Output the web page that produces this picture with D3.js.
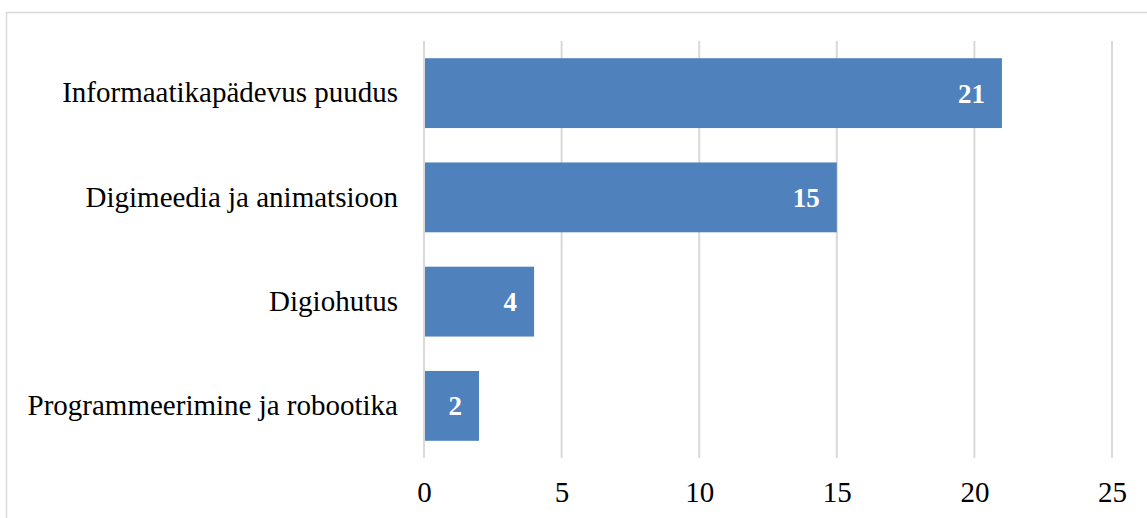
<!DOCTYPE html>
<html>
<head>
<meta charset="utf-8">
<script src="https://cdn.jsdelivr.net/npm/d3@7"></script>
<style>
  body { margin: 0; background: #fff; }
  text { font-family: "Liberation Serif", "Times New Roman", serif; }
</style>
</head>
<body>
<div id="chart"></div>
<script>
var svgWidth = 1147;
var svgHeight = 518;

// data
var categories = ["Informaatikapädevus puudus", "Digimeedia ja animatsioon", "Digiohutus", "Programmeerimine ja robootika"];
var values = [21, 15, 4, 2];
var xTicks = [0, 5, 10, 15, 20, 25];

var margin = { top: 41, right: 35, bottom: 60, left: 424 };
var width = 1112 - margin.left;
var height = 458 - margin.top;

var svg = d3.select("#chart")
  .append("svg")
  .attr("width", svgWidth)
  .attr("height", svgHeight);

// outer chart border (runs off the right/bottom edges)
svg.append("rect")
  .attr("x", 6.5)
  .attr("y", 12.5)
  .attr("width", 1200)
  .attr("height", 600)
  .attr("fill", "none")
  .attr("stroke", "#d9d9d9")
  .attr("stroke-width", 1.5);

var chartGroup = svg.append("g")
  .attr("transform", `translate(${margin.left}, ${margin.top})`);

var xScale = d3.scaleLinear()
  .domain([0, 25])
  .range([0, width]);

var yScale = d3.scaleBand()
  .domain(categories)
  .range([0, height])
  .paddingInner(0.33)
  .paddingOuter(0.165);

// gridlines
chartGroup.selectAll("line.grid")
  .data(xTicks)
  .enter()
  .append("line")
  .attr("class", "grid")
  .attr("x1", d => xScale(d))
  .attr("x2", d => xScale(d))
  .attr("y1", 0)
  .attr("y2", height)
  .attr("stroke", "#d9d9d9")
  .attr("stroke-width", 2);

// x axis labels
var bottomAxis = d3.axisBottom(xScale).tickValues(xTicks).tickSize(0).tickPadding(0);
var xAxis = chartGroup.append("g")
  .attr("transform", `translate(0, ${height})`)
  .call(bottomAxis);
xAxis.select(".domain").remove();
xAxis.attr("font-family", null).attr("font-size", null);
xAxis.selectAll("text")
  .attr("dy", null)
  .attr("y", 44)
  .style("font-size", "29px")
  .attr("fill", "#000");

// y axis labels
var leftAxis = d3.axisLeft(yScale).tickSize(0).tickPadding(26);
var yAxis = chartGroup.append("g").call(leftAxis);
yAxis.select(".domain").remove();
yAxis.attr("font-family", null).attr("font-size", null);
yAxis.selectAll("text")
  .style("font-size", "29px")
  .attr("fill", "#000");

// bars
chartGroup.selectAll("rect.bar")
  .data(values)
  .enter()
  .append("rect")
  .attr("class", "bar")
  .attr("x", 1)
  .attr("y", (d, i) => yScale(categories[i]))
  .attr("width", d => xScale(d) - 1)
  .attr("height", yScale.bandwidth())
  .attr("fill", "#4f81bd");

// value labels
chartGroup.selectAll("text.val")
  .data(values)
  .enter()
  .append("text")
  .attr("class", "val")
  .attr("x", d => xScale(d) - 17)
  .attr("y", (d, i) => yScale(categories[i]) + yScale.bandwidth() / 2)
  .attr("dy", "0.35em")
  .attr("text-anchor", "end")
  .style("font-size", "27px")
  .attr("font-weight", "bold")
  .attr("fill", "#fff")
  .text(d => d);
</script>
</body>
</html>
